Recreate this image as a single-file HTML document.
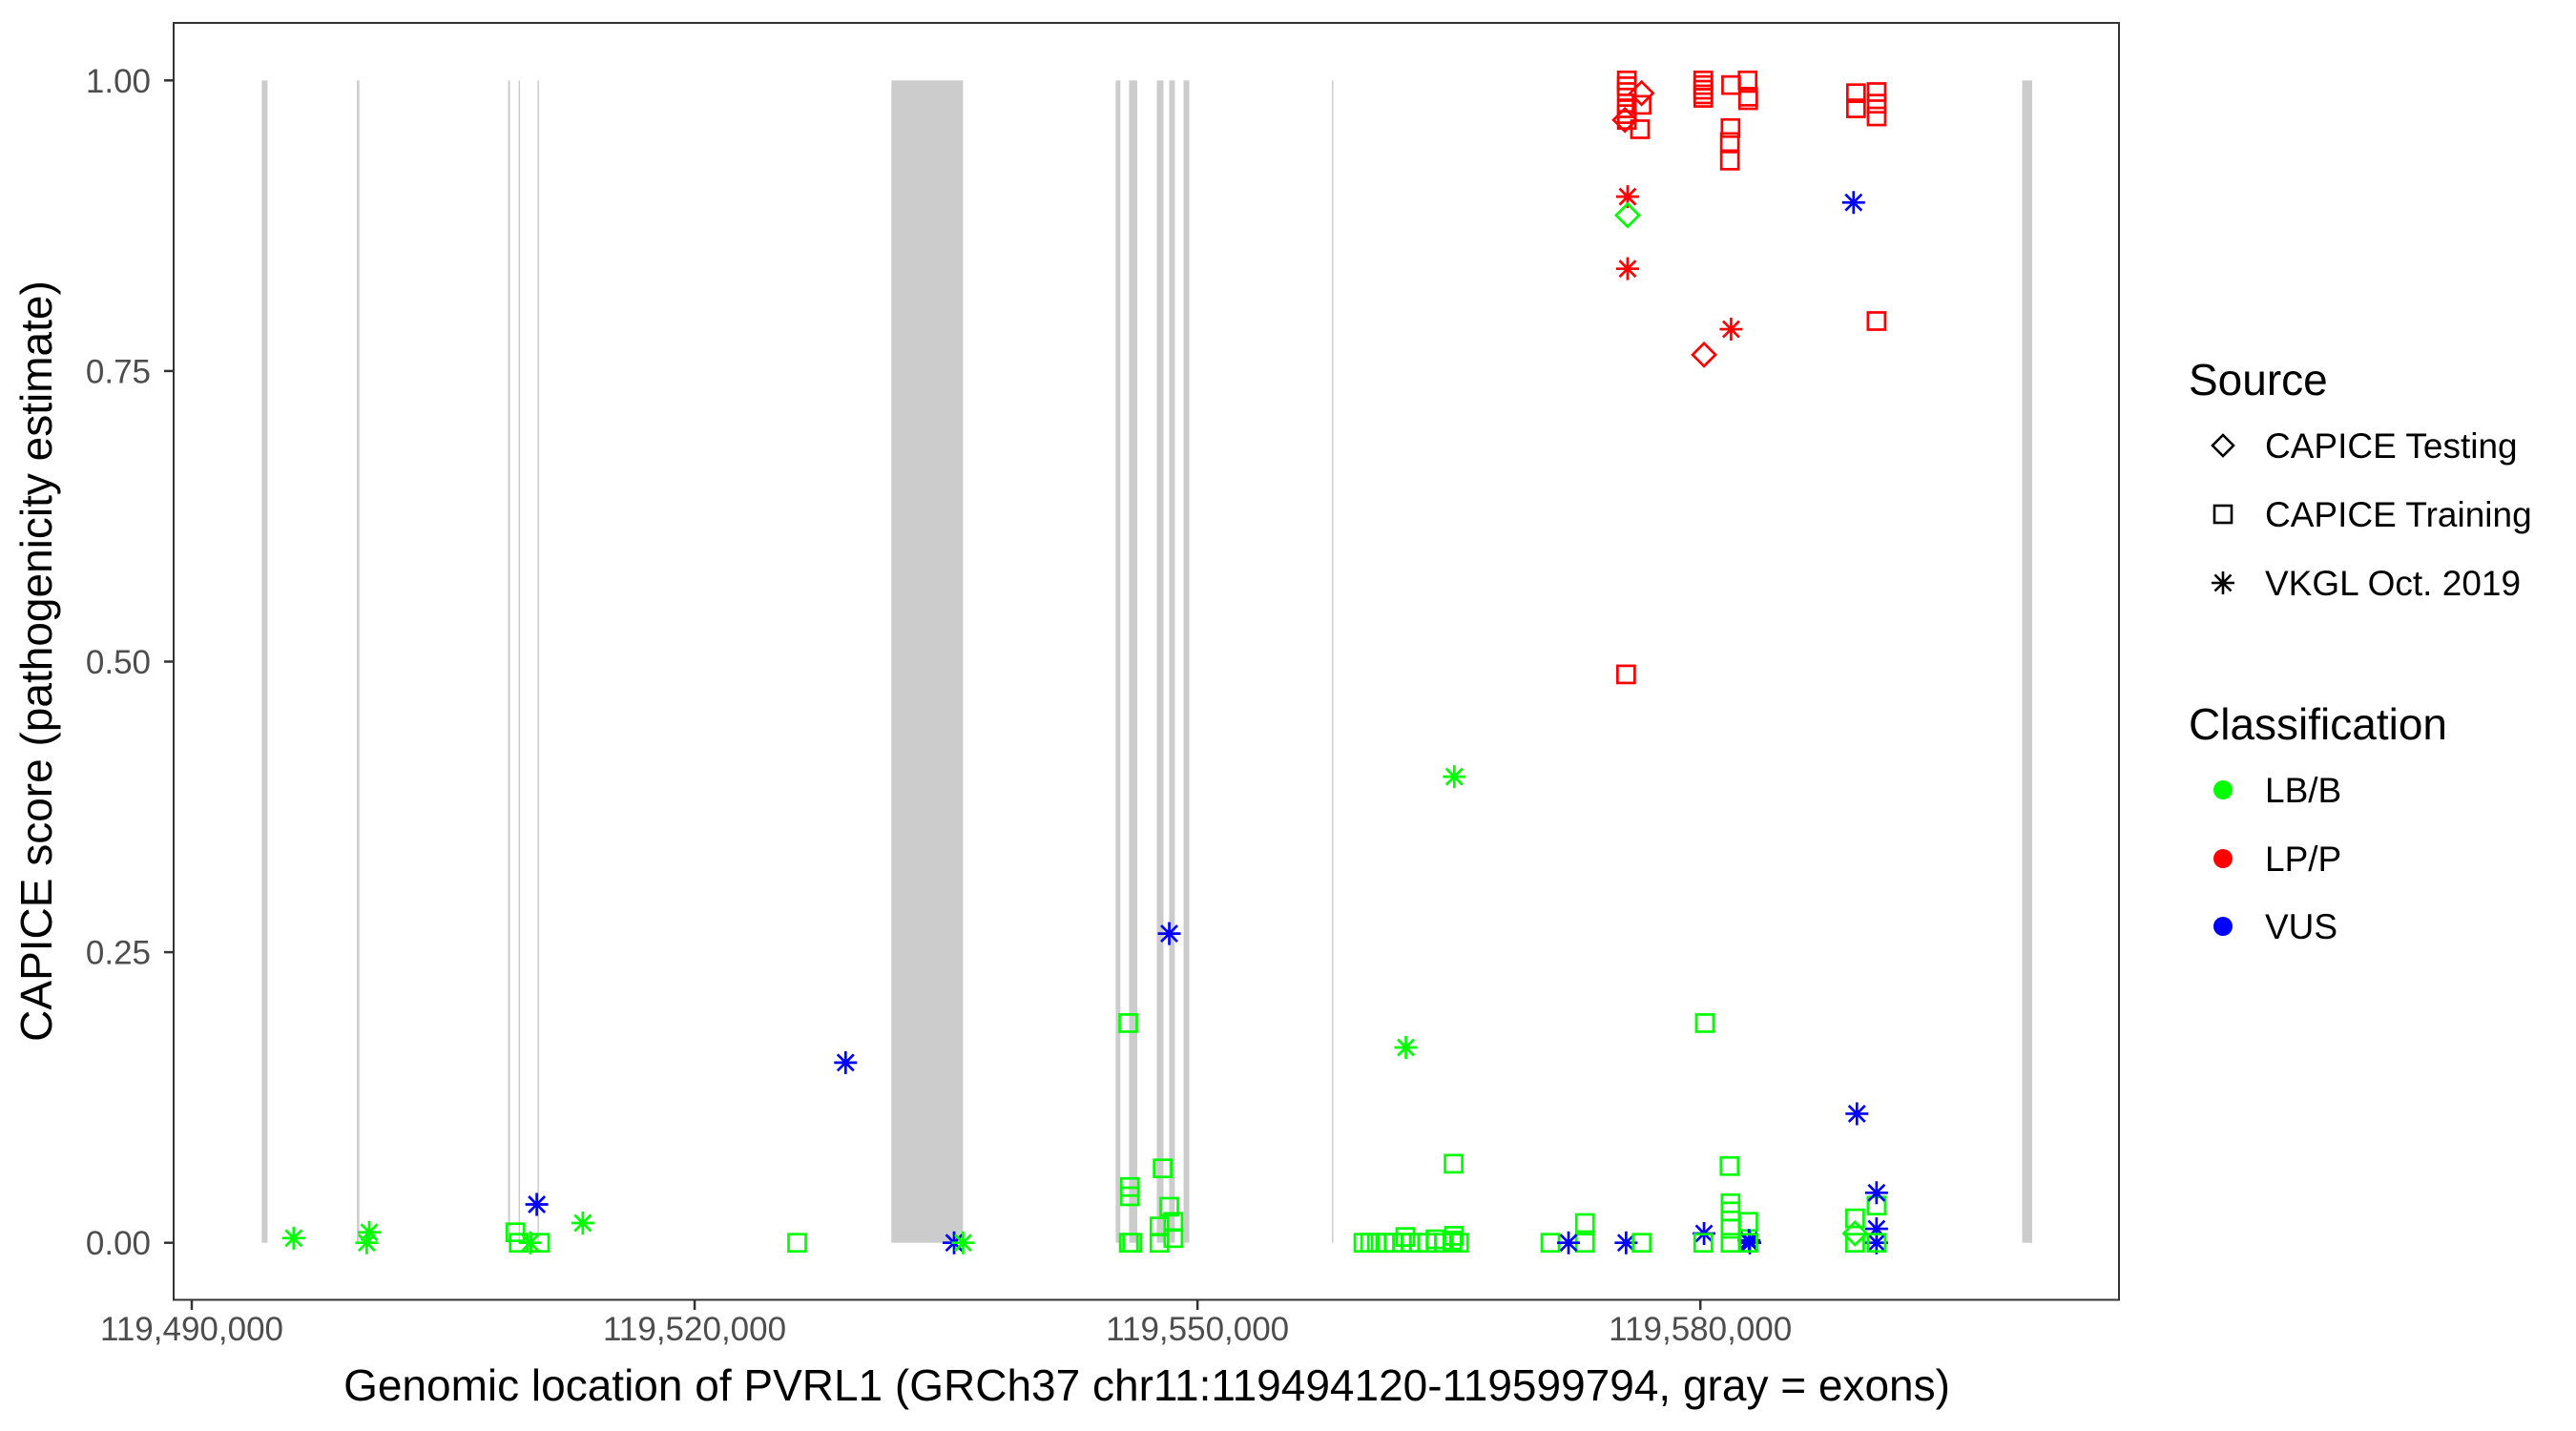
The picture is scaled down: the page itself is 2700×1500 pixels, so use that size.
<!DOCTYPE html>
<html><head><meta charset="utf-8"><style>
html,body{margin:0;padding:0;background:#fff;}
svg{display:block;font-family:"Liberation Sans",Arial,sans-serif;}
</style></head><body>
<svg id="chart" width="2700" height="1500" viewBox="0 0 2700 1500" xmlns="http://www.w3.org/2000/svg">
<rect width="2700" height="1500" fill="#fff"/>
<g id="exons"></g>
<g id="points"></g>
<rect x="182" y="24" width="2039" height="1338.5" fill="none" stroke="#333" stroke-width="2"/>
<g id="yaxis"></g>
<g id="xaxis"></g>
<text transform="translate(54,693) rotate(-90)" text-anchor="middle" font-size="46" fill="#000">CAPICE score (pathogenicity estimate)</text>
<text x="1202" y="1468" text-anchor="middle" font-size="46" fill="#000">Genomic location of PVRL1 (GRCh37 chr11:119494120-119599794, gray = exons)</text>
<g>
<text x="2294" y="414" font-size="46">Source</text>
<path d="M2330,456 l11,11 l-11,11 l-11,-11z" fill="none" stroke="#000" stroke-width="2.6"/>
<text x="2374" y="480" font-size="37">CAPICE Testing</text>
<rect x="2321" y="530" width="18" height="18" fill="none" stroke="#000" stroke-width="2.6"/>
<text x="2374" y="552" font-size="37">CAPICE Training</text>
<path d="M2318,611h24M2330,599v24M2321.5,602.5l17,17M2338.5,602.5l-17,17" stroke="#000" stroke-width="2.6"/>
<text x="2374" y="624" font-size="37">VKGL Oct. 2019</text>
</g>
<g>
<text x="2294" y="775" font-size="46">Classification</text>
<circle cx="2330" cy="828" r="10" fill="#00ff00"/>
<text x="2374" y="841" font-size="37">LB/B</text>
<circle cx="2330" cy="900" r="10" fill="#ff0000"/>
<text x="2374" y="913" font-size="37">LP/P</text>
<circle cx="2330" cy="971" r="10" fill="#0000ff"/>
<text x="2374" y="984" font-size="37">VUS</text>
</g>
</svg>
<script>
const exonStarts=[119494178,119499852,119508870,119509500,119510630,119531740,119545120,119545920,119547570,119548310,119549170,119558020,119599200];
const exonEnds  =[119494520,119499995,119508985,119509570,119510700,119536010,119545400,119546410,119547970,119548650,119549510,119558080,119599794];
const xTicks=[119490000,119520000,119550000,119580000];
const yTicks=[0,0.25,0.5,0.75,1.0];
const yTickLabels=["0.00","0.25","0.50","0.75","1.00"];
const pos=[119496079,119500587,119500439,119509307,119509506,119510190,119510776,119510582,119513326,119526116,119529007,119535479,119536014,119545867,119545964,119545964,119545900,119546100,119547922,119548315,119548560,119547730,119547730,119548560,119548315,
119575613,119575613,119575613,119575613,119575613,119575613,119575500,119576495,119576495,119576400,119575660,119575660,119575660,119575570,
119580173,119580173,119580173,119580173,119580173,119581835,119582820,119582850,119582850,119581800,119581760,119581760,119581835,119580220,
119589286,119589286,119590515,119590515,119590515,119589140,119590510,
119565322,119562431,119565280,119559900,119560300,119560700,119561200,119561700,119562200,119562700,119563200,119563700,119564200,119564700,119565200,119565600,119562400,119565300,
119571054,119573113,119573113,119572136,119575570,119576500,119580270,119580220,119580173,119581740,119581800,119581800,119581800,119582860,119582900,119582950,119581800,119582860,
119589230,119589230,119589230,119590510,119590510,119589340,119590510,119590510,119590510];
const score=[0.004,0.009,0,0.009,0,0,0,0.033,0.017,0,0.155,0,0,0.189,0.048,0.040,0,0,0.064,0.031,0.018,0.014,0,0.004,0.266,
1.0,0.995,0.99,0.976,0.971,0.966,0.966,0.989,0.979,0.958,0.900,0.884,0.838,0.489,
1.0,0.996,0.992,0.988,0.985,0.996,1.0,0.986,0.983,0.959,0.947,0.931,0.786,0.764,
0.989,0.976,0.990,0.980,0.969,0.895,0.793,
0.401,0.168,0.068,0,0,0,0,0,0,0,0,0,0.003,0,0.002,0,0.005,0.006,
0,0.017,0,0,0,0,0.189,0.008,0,0.066,0.034,0.027,0.012,0.018,0.002,0,0,0,
0.021,0,0.008,0.032,0.043,0.111,0.012,0,0];
const src="VVVSSVSVVSVVVSSSSSSSSSSSV"+"SSSSSSDDSSVDVS"+"SSSSSSSSSSSSVD"+"SSSSSVS"+"VVSSSSSSSSSSSSSSSS"+"SSSVVSSVSSSSSSVVSS"+"SSDSVVVVS";
const cls="BBBBBBBUBBUUBBBBBBBBBBBBU"+"PPPPPPPPPPPBPP"+"PPPPPPPPPPPPPP"+"PPPPPUP"+"BBBBBBBBBBBBBBBBBB"+"BBBUUBBUBBBBBBUUBB"+"BBBBUUUUB";
const X0=119490000, XPX0=201, XK=0.017569, Y0PX=1302.7, YK=1218.4;
const xs=v=>XPX0+(v-X0)*XK;
const ys=v=>Y0PX-v*YK;
const NS="http://www.w3.org/2000/svg";
const col={B:"#00ff00",P:"#ff0000",U:"#0000ff"};
const eg=document.getElementById('exons');
for(let i=0;i<exonStarts.length;i++){
 const r=document.createElementNS(NS,'rect');
 
 
 const a=xs(exonStarts[i]),b=Math.max(xs(exonEnds[i]),a+1.5);
 r.setAttribute('x',a);r.setAttribute('width',b-a);
 r.setAttribute('y',ys(1));r.setAttribute('height',ys(0)-ys(1));
 r.setAttribute('fill','#cccccc');eg.appendChild(r);
}
const pg=document.getElementById('points');
for(let i=0;i<pos.length;i++){
 const cx=xs(pos[i]),cy=ys(score[i]),c=col[cls[i]]||'#00ff00',s=src[i];
 let el;
 if(s==='S'){el=document.createElementNS(NS,'rect');
  el.setAttribute('x',cx-9);el.setAttribute('y',cy-9);el.setAttribute('width',18);el.setAttribute('height',18);}
 else if(s==='D'){el=document.createElementNS(NS,'path');
  el.setAttribute('d',`M${cx},${cy-12}l12,12l-12,12l-12,-12z`);}
 else {el=document.createElementNS(NS,'path');
  el.setAttribute('d',`M${cx-12},${cy}h24M${cx},${cy-12}v24M${cx-8.5},${cy-8.5}l17,17M${cx+8.5},${cy-8.5}l-17,17`);}
 
 
 el.setAttribute('fill','none');el.setAttribute('stroke',c);el.setAttribute('stroke-width','2.7');
 pg.appendChild(el);
}
const ya=document.getElementById('yaxis');
yTicks.forEach((t,i)=>{
 const l=document.createElementNS(NS,'line');
 
 
 l.setAttribute('x1',172);l.setAttribute('x2',182);l.setAttribute('y1',ys(t));l.setAttribute('y2',ys(t));
 l.setAttribute('stroke','#333');l.setAttribute('stroke-width','2.5');ya.appendChild(l);
 const tx=document.createElementNS(NS,'text');
 
 
 tx.setAttribute('x',158);tx.setAttribute('y',ys(t)+12.5);tx.setAttribute('text-anchor','end');
 tx.setAttribute('font-size','35');tx.setAttribute('fill','#4d4d4d');tx.textContent=yTickLabels[i];ya.appendChild(tx);
});
const xa=document.getElementById('xaxis');
xTicks.forEach(t=>{
 const l=document.createElementNS(NS,'line');
 
 
 l.setAttribute('x1',xs(t));l.setAttribute('x2',xs(t));l.setAttribute('y1',1362.5);l.setAttribute('y2',1373);
 l.setAttribute('stroke','#333');l.setAttribute('stroke-width','2.5');xa.appendChild(l);
 const tx=document.createElementNS(NS,'text');
 
 
 tx.setAttribute('x',xs(t));tx.setAttribute('y',1405);tx.setAttribute('text-anchor','middle');
 tx.setAttribute('font-size','35');tx.setAttribute('fill','#4d4d4d');tx.textContent=t.toLocaleString('en-US');xa.appendChild(tx);
});
</script>
</body></html>
